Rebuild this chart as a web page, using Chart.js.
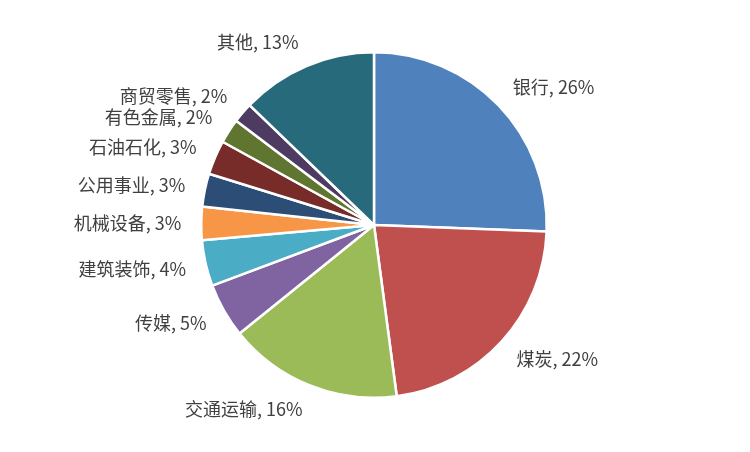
<!DOCTYPE html>
<html>
<head>
<meta charset="utf-8">
<script src="https://cdn.jsdelivr.net/npm/chart.js@4"></script>
<style>
  html, body { margin: 0; padding: 0; background: #fff; }
  #wrap { width: 750px; height: 452px; }
</style>
</head>
<body>
<div id="wrap"><canvas id="pie"></canvas></div>
<script>
const industries = ['银行', '煤炭', '交通运输', '传媒', '建筑装饰', '机械设备', '公用事业', '石油石化', '有色金属', '商贸零售', '其他'];
const weights = [25.6, 22.3, 16.3, 5.1, 4.3, 3.1, 3.1, 3.2, 2.3, 1.9, 12.8];
const pctLabels = ['26%', '22%', '16%', '5%', '4%', '3%', '3%', '3%', '2%', '2%', '13%'];
const sliceColors = ['#4F81BD', '#C0504D', '#9BBB59', '#8064A2', '#4BACC6', '#F79646', '#2C4D75', '#772C2A', '#5F7530', '#4D3B62', '#276A7C'];

// draws "name, pct" just outside each slice, Excel style
const outsideLabels = {
  id: 'outsideLabels',
  afterDatasetsDraw(chart) {
    const ctx = chart.ctx;
    const meta = chart.getDatasetMeta(0);
    ctx.save();
    ctx.font = '18px "Noto Sans CJK SC", "Noto Sans", sans-serif';
    ctx.fillStyle = '#404040';
    ctx.textBaseline = 'middle';
    meta.data.forEach((arc, i) => {
      const p = arc.getProps(['x', 'y', 'startAngle', 'endAngle', 'outerRadius'], true);
      const mid = (p.startAngle + p.endAngle) / 2;
      const x = p.x + Math.cos(mid) * (p.outerRadius + 20);
      const y = p.y + Math.sin(mid) * (p.outerRadius + 26);
      ctx.textAlign = x >= p.x ? 'left' : 'right';
      ctx.fillText(industries[i] + ', ' + pctLabels[i], x, y);
    });
    ctx.restore();
  }
};

new Chart(document.getElementById('pie').getContext('2d'), {
  type: 'pie',
  data: {
    labels: industries,
    datasets: [{
      data: weights,
      backgroundColor: sliceColors,
      borderColor: '#ffffff',
      borderWidth: 2.5
    }]
  },
  options: {
    responsive: true,
    maintainAspectRatio: false,
    animation: false,
    layout: { padding: { top: 51, bottom: 53, left: 0, right: 2 } },
    plugins: {
      legend: { display: false },
      tooltip: { enabled: false }
    }
  },
  plugins: [outsideLabels]
});
</script>
</body>
</html>
